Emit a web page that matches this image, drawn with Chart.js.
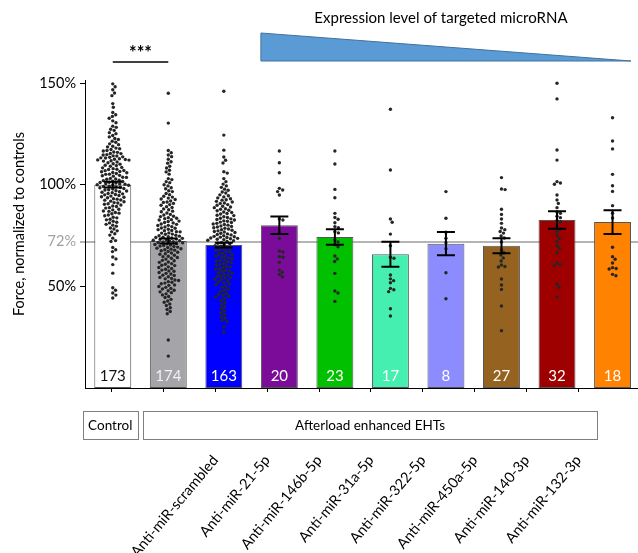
<!DOCTYPE html>
<html>
<head>
<meta charset="utf-8">
<script src="https://cdn.jsdelivr.net/npm/chart.js@4"></script>
<style>
  html, body { margin: 0; padding: 0; background: #fff; overflow: hidden; }
  canvas { display: block; }
</style>
</head>
<body>
<canvas id="chart" width="642" height="553"></canvas>
<script>
// categories (bar order) and the rotated tick labels under the axis
const categories = ['Control', 'Afterload enhanced', 'Anti-miR-scrambled', 'Anti-miR-21-5p', 'Anti-miR-146b-5p',
  'Anti-miR-31a-5p', 'Anti-miR-322-5p', 'Anti-miR-450a-5p', 'Anti-miR-140-3p', 'Anti-miR-132-3p'];
const tickLabels = ['', '', 'Anti-miR-scrambled', 'Anti-miR-21-5p', 'Anti-miR-146b-5p',
  'Anti-miR-31a-5p', 'Anti-miR-322-5p', 'Anti-miR-450a-5p', 'Anti-miR-140-3p', 'Anti-miR-132-3p'];
const yTicks = [50, 72, 100, 150];
const refLevel = 72;

// bar means, SEM and n
const means = [100, 72.3, 70.3, 80.1, 74.3, 65.8, 71.0, 70.0, 82.6, 81.6];
const sems = [1.4, 1.2, 1.2, 4.3, 3.8, 6.1, 5.7, 3.7, 4.3, 5.8];
const counts = [173, 174, 163, 20, 23, 17, 8, 27, 32, 18];
const barColors = ['#ffffff', '#a4a4a9', '#0000ff', '#7a0c99', '#00c000', '#44efb0', '#8c8cff', '#956220', '#9e0000', '#ff8200'];

// individual EHTs
const controlDots = [149.6, 148.2, 146.7, 145.1, 143.8, 139.9, 138.1, 135.5, 134.4, 133.6,
  132.7, 131.4, 130.5, 128.8, 128.2, 127.3, 126.7, 125.6, 125.1, 124.2,
  123.5, 122.7, 122.2, 121.4, 120.9, 120.1, 119.7, 118.9, 118.6, 118.0,
  117.7, 117.3, 116.8, 116.6, 116.1, 115.9, 115.4, 115.3, 114.8, 114.6,
  114.2, 114.1, 113.7, 113.5, 113.2, 113.1, 112.8, 112.5, 112.4, 112.2,
  112.1, 111.8, 111.6, 111.2, 110.8, 110.3, 110.1, 109.6, 109.4, 109.1,
  108.5, 108.3, 107.9, 107.6, 107.5, 107.0, 106.9, 106.5, 106.4, 106.0,
  105.9, 105.5, 105.2, 105.1, 104.6, 104.4, 104.2, 103.7, 103.6, 103.1,
  102.8, 102.7, 102.2, 102.0, 101.7, 101.6, 101.2, 101.1, 100.8, 100.5,
  100.4, 100.2, 100.0, 99.8, 99.7, 99.3, 99.1, 98.9, 98.6, 98.5,
  98.1, 97.9, 97.5, 97.4, 97.0, 96.9, 96.5, 96.3, 96.1, 95.7,
  95.5, 95.2, 95.0, 94.7, 94.4, 94.1, 93.8, 93.6, 93.1, 92.9,
  92.5, 92.4, 91.9, 91.6, 91.2, 91.0, 90.6, 90.4, 90.0, 89.5,
  89.3, 88.7, 88.5, 87.9, 87.6, 87.1, 86.9, 86.3, 86.0, 85.7,
  85.1, 84.7, 84.0, 83.7, 83.0, 82.7, 82.0, 81.5, 81.2, 80.5,
  80.1, 79.6, 78.7, 78.2, 77.3, 76.8, 75.9, 75.2, 73.7, 72.5,
  72.1, 69.1, 68.0, 67.1, 64.4, 63.5, 60.7, 56.5, 49.3, 48.1,
  46.7, 45.7, 44.3];
const afterloadDots = [145.0, 130.3, 116.8, 115.7, 114.6, 113.8, 112.5, 111.3, 110.6, 109.1,
  108.2, 107.1, 106.3, 105.2, 103.0, 102.5, 101.5, 101.0, 100.0, 99.4,
  98.5, 98.0, 97.0, 96.6, 95.7, 95.1, 94.3, 93.9, 93.4, 93.0,
  92.7, 92.0, 91.5, 91.3, 90.8, 90.2, 89.9, 89.2, 88.8, 88.1,
  87.7, 87.0, 86.7, 86.1, 85.4, 85.1, 84.5, 84.3, 83.8, 83.5,
  83.3, 82.8, 82.6, 82.1, 81.9, 81.4, 81.2, 80.7, 80.5, 80.0,
  79.9, 79.4, 79.2, 78.7, 78.6, 78.1, 77.9, 77.5, 77.4, 76.9,
  76.8, 76.3, 76.2, 75.7, 75.6, 75.1, 74.9, 74.7, 74.4, 74.2,
  74.0, 73.8, 73.6, 73.3, 73.1, 72.9, 72.7, 72.4, 72.2, 72.0,
  71.9, 71.6, 71.4, 71.1, 70.9, 70.6, 70.3, 70.1, 69.8, 69.6,
  69.3, 69.1, 68.8, 68.5, 68.3, 68.0, 67.8, 67.5, 67.2, 66.8,
  66.4, 66.0, 65.8, 65.3, 64.8, 64.6, 64.2, 63.8, 63.4, 62.8,
  62.6, 62.0, 61.8, 61.2, 60.9, 60.4, 60.2, 59.6, 59.3, 58.8,
  58.4, 58.0, 57.6, 57.4, 56.8, 56.4, 56.1, 55.5, 55.3, 54.7,
  54.4, 53.9, 53.7, 53.1, 52.9, 52.3, 52.0, 51.6, 51.3, 50.7,
  50.5, 49.9, 49.5, 49.0, 48.7, 48.1, 47.8, 47.3, 46.9, 46.3,
  45.8, 45.0, 44.5, 43.6, 42.8, 42.2, 41.3, 40.6, 39.5, 38.6,
  37.6, 36.5, 23.6, 15.7];
const scrambledDots = [146.0, 124.4, 117.0, 113.6, 112.0, 110.7, 106.4, 105.7, 103.0, 101.5,
  100.3, 99.4, 98.7, 97.8, 97.3, 96.4, 95.9, 95.0, 94.6, 94.0,
  93.5, 93.1, 92.6, 92.4, 91.8, 91.5, 91.0, 90.8, 90.2, 89.9,
  89.4, 89.0, 88.7, 88.2, 87.9, 87.4, 87.2, 86.6, 86.3, 85.8,
  85.6, 85.0, 84.8, 84.2, 83.9, 83.5, 83.2, 82.9, 82.6, 82.2,
  82.0, 81.6, 81.4, 81.0, 80.7, 80.4, 80.1, 79.7, 79.5, 79.2,
  78.8, 78.6, 78.2, 77.9, 77.6, 77.3, 77.0, 76.7, 76.5, 76.1,
  75.8, 75.5, 75.3, 74.9, 74.6, 74.4, 74.2, 74.0, 73.8, 73.6,
  73.4, 73.2, 73.0, 72.7, 72.4, 72.1, 71.6, 71.2, 70.9, 70.4,
  70.0, 69.7, 69.2, 68.8, 68.5, 68.0, 67.7, 67.1, 66.9, 66.3,
  66.0, 65.6, 65.1, 64.9, 64.4, 64.0, 63.7, 63.1, 62.8, 62.4,
  62.0, 61.7, 61.1, 60.8, 60.5, 59.9, 59.6, 59.3, 58.7, 58.4,
  57.9, 57.6, 57.3, 56.7, 56.5, 55.9, 55.6, 55.1, 54.9, 54.3,
  54.1, 53.5, 53.3, 52.8, 52.3, 51.6, 50.9, 50.0, 49.5, 48.6,
  48.0, 47.4, 46.5, 46.0, 45.1, 44.7, 43.9, 43.0, 42.1, 41.1,
  40.0, 39.2, 37.9, 37.0, 36.1, 35.1, 34.3, 33.3, 32.7, 30.0,
  27.6, 45.6, 51.2];
const mir21Dots = [116.6, 110.8, 105.9, 98.2, 97.4, 96.6, 94.9, 83.1, 82.6, 76.4,
  73.6, 67.4, 66.9, 64.6, 64.3, 61.8, 58.0, 56.9, 55.8, 54.7];
const mir146bDots = [116.6, 110.2, 97.7, 93.6, 85.9, 83.9, 83.0, 81.3, 79.4, 78.8,
  76.9, 76.3, 72.8, 71.8, 70.5, 69.5, 64.9, 63.5, 62.2, 56.4, 47.7, 46.7, 42.6];
const mir31aDots = [137.1, 107.2, 83.1, 81.5, 75.7, 70.0, 64.3, 63.8, 55.6, 53.7,
  52.8, 51.8, 49.0, 48.3, 47.4, 39.0, 35.4];
const mir322Dots = [96.6, 83.5, 76.6, 73.6, 71.5, 68.5, 56.7, 43.9];
const mir450aDots = [103.5, 97.9, 97.6, 87.9, 85.4, 83.1, 81.0, 78.7, 77.9, 77.0,
  76.2, 74.8, 73.8, 71.8, 67.9, 66.5, 65.4, 64.0, 62.5, 60.5,
  59.8, 59.5, 53.6, 50.7, 48.5, 40.3, 28.2];
const mir140Dots = [149.9, 142.2, 117.1, 112.1, 101.5, 100.8, 100.2, 94.9, 92.5, 90.8,
  88.7, 86.6, 85.9, 84.5, 83.8, 82.4, 81.8, 79.3, 78.0, 76.9,
  75.0, 73.6, 72.0, 70.0, 68.7, 66.5, 61.5, 60.7, 60.2, 51.0, 49.5, 44.6];
const mir132Dots = [132.9, 121.5, 117.6, 105.1, 99.5, 96.7, 89.7, 86.0, 83.6, 69.2,
  64.6, 63.3, 61.5, 59.2, 58.8, 58.5, 55.9, 55.2];

const dotGroups = [controlDots, afterloadDots, scrambledDots, mir21Dots, mir146bDots,
  mir31aDots, mir322Dots, mir450aDots, mir140Dots, mir132Dots];

const FONT = "Lato, 'Open Sans', sans-serif";
Chart.defaults.font.family = FONT;
Chart.defaults.font.size = 14;
Chart.defaults.color = '#000';

const dotPoints = [];
dotGroups.forEach((vals, g) => vals.forEach(v => dotPoints.push({ x: categories[g], y: v })));

const DOT_R = 1.7;
const GAP = 3.7;
// the tick axis runs on its own spacing, a little tighter than the bars
const XT_MIN = -0.513;
const XT_MAX = 10.192;

// spread the dots sideways like a beeswarm, in pixel space
const swarmPlugin = {
  id: 'swarm',
  afterDatasetsUpdate(chart) {
    const meta = chart.getDatasetMeta(0);
    const groups = {};
    meta.data.forEach((pt, i) => {
      const key = dotPoints[i].x;
      (groups[key] = groups[key] || []).push(pt);
    });
    Object.values(groups).forEach(pts => {
      const cx = pts[0].x;
      const placed = [];
      pts.slice().sort((a, b) => a.y - b.y).forEach(pt => {
        const cands = [0];
        placed.forEach(q => {
          const dy = Math.abs(q.y - pt.y);
          if (dy < GAP) {
            const dx = Math.sqrt(GAP * GAP - dy * dy);
            cands.push(q.off + dx, q.off - dx);
          }
        });
        cands.sort((a, b) => Math.abs(a) - Math.abs(b));
        const off = cands.find(c => placed.every(q => (q.off - c) ** 2 + (q.y - pt.y) ** 2 >= GAP * GAP - 1e-6));
        placed.push({ off, y: pt.y });
        pt.x = cx + off;
      });
    });
  }
};

// error bars + n inside bars
const barExtras = {
  id: 'barExtras',
  afterDatasetsDraw(chart) {
    const { ctx, chartArea, scales: { y } } = chart;
    const bars = chart.getDatasetMeta(1).data;
    ctx.save();
    ctx.strokeStyle = '#000';
    ctx.lineWidth = 2;
    bars.forEach((bar, i) => {
      const top = y.getPixelForValue(means[i] + sems[i]);
      const bot = y.getPixelForValue(means[i] - sems[i]);
      ctx.beginPath();
      ctx.moveTo(bar.x, top); ctx.lineTo(bar.x, bot);
      ctx.moveTo(bar.x - 9, top); ctx.lineTo(bar.x + 9, top);
      ctx.moveTo(bar.x - 9, bot); ctx.lineTo(bar.x + 9, bot);
      ctx.stroke();
    });
    ctx.font = '15px ' + FONT;
    ctx.textAlign = 'center';
    ctx.textBaseline = 'middle';
    bars.forEach((bar, i) => {
      ctx.fillStyle = i === 0 ? '#111' : (i === 1 ? '#f2f2f2' : '#ffffff');
      ctx.fillText(String(counts[i]), bar.x, chartArea.bottom - 12);
    });
    ctx.restore();
  }
};

// titles, triangle, significance and group boxes
const decor = {
  id: 'decor',
  afterDraw(chart) {
    const { ctx, chartArea: ca } = chart;
    const bars = chart.getDatasetMeta(1).data;
    ctx.save();
    ctx.fillStyle = '#000';
    ctx.textAlign = 'center';
    ctx.textBaseline = 'middle';

    // y axis title
    ctx.font = '14.5px ' + FONT;
    ctx.save();
    ctx.translate(19, 224);
    ctx.rotate(-Math.PI / 2);
    ctx.fillText('Force, normalized to controls', 0, 0);
    ctx.restore();

    // significance
    const x0 = bars[0].x, x1 = bars[1].x;
    ctx.strokeStyle = '#000';
    ctx.lineWidth = 1.5;
    ctx.beginPath();
    ctx.moveTo(x0, ca.top - 18); ctx.lineTo(x1, ca.top - 18);
    ctx.stroke();
    ctx.font = 'bold 18px ' + FONT;
    ctx.fillText('***', (x0 + x1) / 2, ca.top - 27);

    // expression triangle
    const tl = bars[3].x - bars[3].width / 2;
    const tr = bars[9].x + bars[9].width / 2;
    ctx.beginPath();
    ctx.moveTo(tl, ca.top - 47);
    ctx.lineTo(tr, ca.top - 19);
    ctx.lineTo(tl, ca.top - 19);
    ctx.closePath();
    ctx.fillStyle = '#5b9bd5';
    ctx.fill();
    ctx.strokeStyle = '#41719c';
    ctx.lineWidth = 1;
    ctx.stroke();
    ctx.fillStyle = '#000';
    ctx.font = '15px ' + FONT;
    ctx.fillText('Expression level of targeted microRNA', (tl + tr) / 2 - 5, ca.top - 62);

    // group boxes
    ctx.font = '13.5px ' + FONT;
    const by = ca.bottom + 23, bh = 28;
    const mid01 = (bars[0].x + bars[1].x) / 2;
    const boxes = [
      ['Control', ca.left - 2, mid01 - 3],
      ['Afterload enhanced EHTs', mid01 + 2.5, bars[9].x - 15.5]
    ];
    ctx.strokeStyle = '#7f7f7f';
    ctx.lineWidth = 1;
    boxes.forEach(([txt, l, r]) => {
      ctx.strokeRect(Math.round(l) + 0.5, by + 0.5, Math.round(r - l), bh);
      ctx.fillText(txt, (l + r) / 2, by + bh / 2 + 1);
    });
    ctx.restore();
  }
};

new Chart(document.getElementById('chart'), {
  type: 'bar',
  data: {
    labels: categories,
    datasets: [
      {
        type: 'scatter',
        data: dotPoints,
        xAxisID: 'x',
        pointRadius: DOT_R,
        pointHoverRadius: DOT_R,
        pointBackgroundColor: '#262626',
        pointBorderWidth: 0,
        order: 0
      },
      {
        type: 'bar',
        data: means,
        xAxisID: 'x',
        backgroundColor: barColors,
        borderColor: '#555555',
        borderWidth: 1,
        borderSkipped: false,
        barPercentage: 0.665,
        categoryPercentage: 1,
        order: 1
      }
    ]
  },
  options: {
    responsive: false,
    animation: false,
    devicePixelRatio: 1,
    layout: { padding: { top: 80, left: 0, right: 0, bottom: 0 } },
    plugins: { legend: { display: false }, tooltip: { enabled: false } },
    scales: {
      x: {
        type: 'category',
        display: false,
        offset: true
      },
      xt: {
        type: 'linear',
        position: 'bottom',
        bounds: 'data',
        offset: false,
        min: XT_MIN,
        max: XT_MAX,
        afterBuildTicks: s => {
          s.ticks = tickLabels.map((_, i) => ({ value: i }));
          s.min = XT_MIN;
          s.max = XT_MAX;
        },
        // fixed height; the labels must not eat into the plot width
        afterFit: s => { s.height = 165; s.paddingLeft = 0; s.paddingRight = 0; },
        grid: { display: true, drawOnChartArea: false, drawTicks: true, tickLength: 4, color: '#000', offset: false },
        border: { display: true, color: '#000', width: 1 },
        ticks: {
          autoSkip: false,
          minRotation: 50,
          maxRotation: 50,
          padding: 60,
          font: { size: 14.5 },
          callback: v => tickLabels[v]
        }
      },
      y: {
        type: 'linear',
        min: 0,
        max: 151.5,
        z: 1,
        afterBuildTicks: s => { s.ticks = yTicks.map(v => ({ value: v })); },
        afterFit: s => { s.width = 85; },
        border: { display: true, color: '#000', width: 1 },
        grid: {
          drawOnChartArea: true,
          tickLength: 5,
          color: c => c.tick && c.tick.value === refLevel ? '#b4b4b4' : 'rgba(0,0,0,0)',
          tickColor: c => c.tick && c.tick.value === refLevel ? '#b4b4b4' : '#000',
          lineWidth: c => c.tick && c.tick.value === refLevel ? 2 : 1
        },
        ticks: {
          padding: 4,
          font: { size: 14.5 },
          color: c => c.tick && c.tick.value === refLevel ? '#a0a0a0' : '#000',
          callback: v => v + '%'
        }
      }
    }
  },
  plugins: [swarmPlugin, barExtras, decor]
});
</script>
</body>
</html>
